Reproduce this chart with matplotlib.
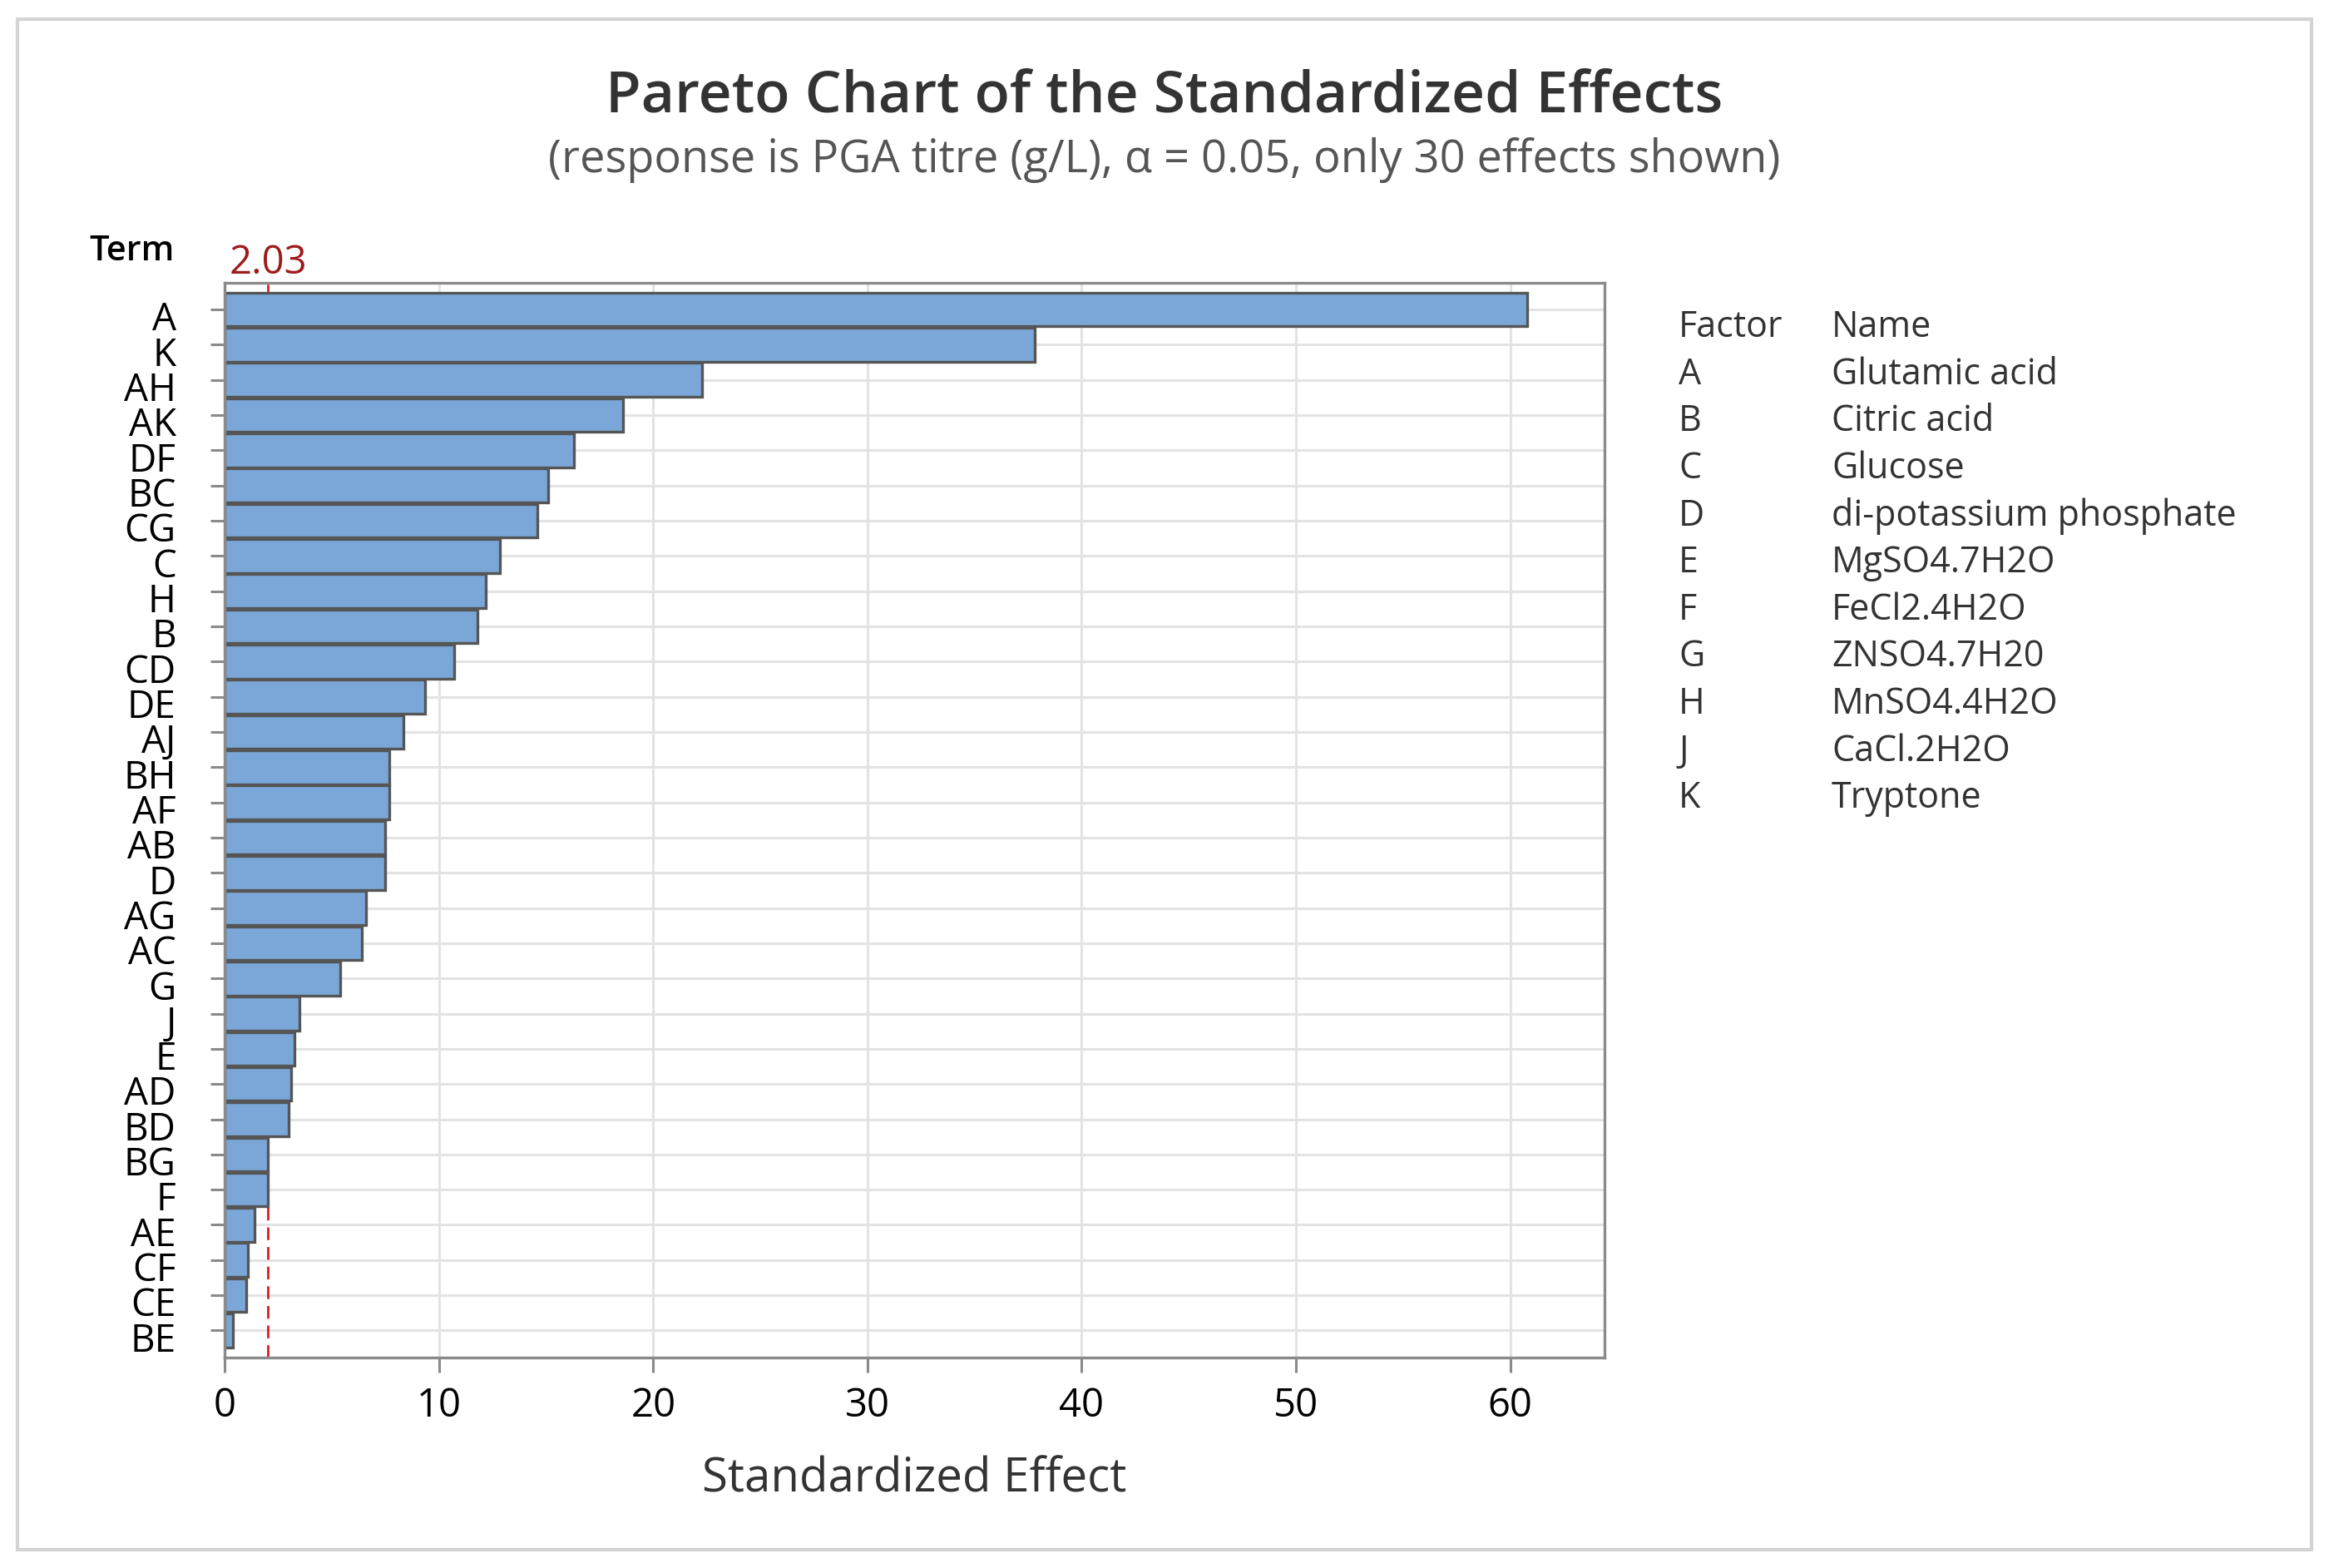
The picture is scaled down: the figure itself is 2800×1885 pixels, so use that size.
import matplotlib
matplotlib.use("Agg")
import matplotlib.pyplot as plt
import matplotlib.transforms as mtransforms
from matplotlib.patches import Rectangle

plt.rcParams['font.family'] = ['Open Sans', 'DejaVu Sans']

# Terms ordered largest to smallest effect
terms = ['A', 'K', 'AH', 'AK', 'DF', 'BC', 'CG', 'C', 'H', 'B',
         'CD', 'DE', 'AJ', 'BH', 'AF', 'AB', 'D', 'AG', 'AC', 'G',
         'J', 'E', 'AD', 'BD', 'BG', 'F', 'AE', 'CF', 'CE', 'BE']
effects = [60.8, 37.8, 22.3, 18.6, 16.3, 15.1, 14.6, 12.85, 12.2, 11.8,
           10.7, 9.35, 8.35, 7.7, 7.7, 7.5, 7.5, 6.6, 6.4, 5.4,
           3.5, 3.25, 3.1, 3.0, 2.0, 2.0, 1.4, 1.1, 1.0, 0.4]
threshold = 2.03
x_ticks = [0, 10, 20, 30, 40, 50, 60]

factor_codes = ['A', 'B', 'C', 'D', 'E', 'F', 'G', 'H', 'J', 'K']
factor_names = ['Glutamic acid', 'Citric acid', 'Glucose', 'di-potassium phosphate',
                'MgSO4.7H2O', 'FeCl2.4H2O', 'ZNSO4.7H20', 'MnSO4.4H2O',
                'CaCl.2H2O', 'Tryptone']

W, H = 2800, 1885
fig = plt.figure(figsize=(14, 9.425), dpi=200)
ax = fig.add_axes([270 / W, 1 - 1632 / H, (1929 - 270) / W, (1632 - 340) / H])

pos = list(range(len(terms)))

# grid
for p in pos:
    ax.axhline(p, color='#e3e3e3', lw=1.1, zorder=0)
for t in x_ticks:
    ax.axvline(t, color='#e3e3e3', lw=1.1, zorder=0)

# significance line sits behind the bars
ax.axvline(threshold, color='#d81e1e', lw=1.0, ls=(0, (5.5, 3)), zorder=1)

ax.barh(pos, effects, height=0.96, color='#7ba7d8', edgecolor='#555555',
        linewidth=1.2, zorder=2)

ax.set_xlim(0, 64.4)
ax.set_ylim(len(terms) - 1 + 0.77, -0.76)
ax.set_xticks(x_ticks)
ax.set_yticks(pos)
ax.set_yticklabels(terms)

for s in ax.spines.values():
    s.set_color('#8a8a8a')
    s.set_linewidth(1.2)

ax.tick_params(axis='y', length=6, width=1.1, color='#8a8a8a', pad=15,
               labelsize=16.5, labelcolor='black')
ax.tick_params(axis='x', length=6.5, width=1.1, color='#8a8a8a', pad=6,
               labelsize=17, labelcolor='black')

# term labels sit a little below their tick marks
shift = mtransforms.ScaledTranslation(0, -2.8 / 72, fig.dpi_scale_trans)
for lab in ax.get_yticklabels():
    lab.set_transform(lab.get_transform() + shift)

ax.set_xlabel('Standardized Effect', fontsize=20.3, color='#333333', labelpad=13)

trans = mtransforms.blended_transform_factory(ax.transData, ax.transAxes)
ax.text(threshold, 1.0, '2.03', transform=trans, ha='center', va='bottom',
        fontsize=17, color='#9e1b1b')

fig.text(159 / W, 1 - 302 / H, 'Term', ha='center', va='center',
         fontsize=15, fontweight='semibold', color='black')

fig.text(0.5, 1 - 117 / H, 'Pareto Chart of the Standardized Effects',
         ha='center', va='center', fontsize=25, fontweight='semibold', color='#333333')
fig.text(0.5, 1 - 192 / H,
         '(response is PGA titre (g/L), \u03b1 = 0.05, only 30 effects shown)',
         ha='center', va='center', fontsize=19.5, color='#555555')

# factor table
y0 = 394
dy = 56.6
fig.text(2018 / W, 1 - y0 / H, 'Factor', ha='left', va='center', fontsize=15.5, color='#333333')
fig.text(2202 / W, 1 - y0 / H, 'Name', ha='left', va='center', fontsize=15.5, color='#333333')
for i, (c, n) in enumerate(zip(factor_codes, factor_names)):
    yy = 1 - (y0 + dy * (i + 1)) / H
    fig.text(2018 / W, yy, c, ha='left', va='center', fontsize=15.5, color='#333333')
    fig.text(2202 / W, yy, n, ha='left', va='center', fontsize=15.5, color='#333333')

# outer frame
fig.patches.append(Rectangle((21 / W, 1 - 1863 / H), (2779 - 21) / W, (1863 - 23) / H,
                             transform=fig.transFigure, fill=False,
                             edgecolor='#d4d4d4', lw=1.5))

fig.savefig('out.png', dpi=200, facecolor='white')
